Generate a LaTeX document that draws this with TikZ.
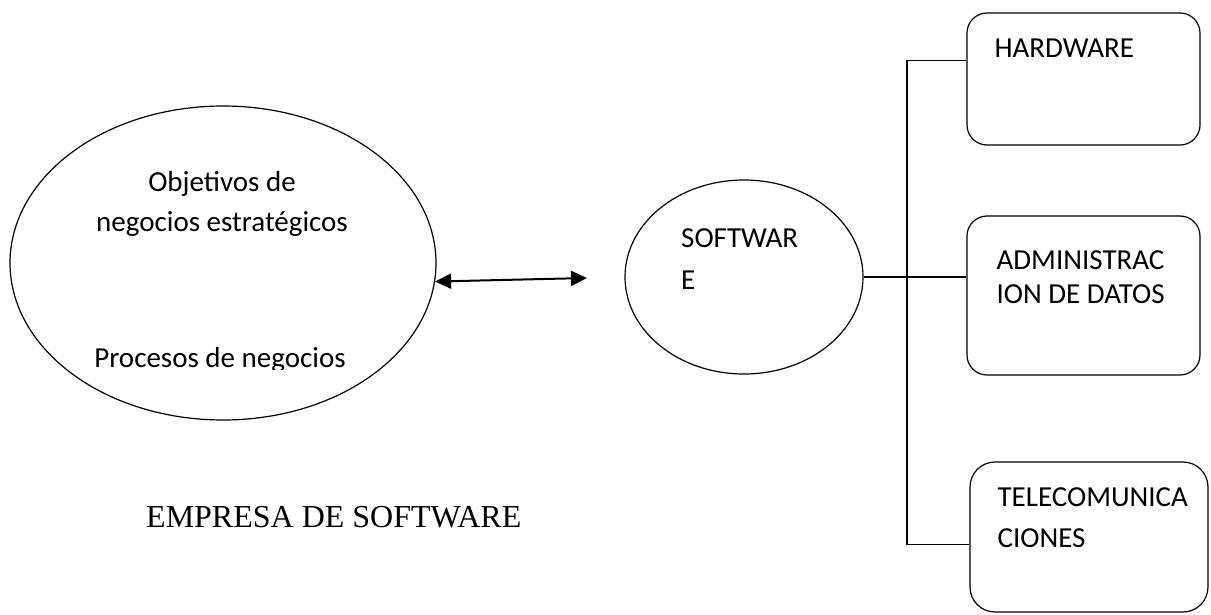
\documentclass[tikz,border=0pt]{standalone}
\usepackage{fontspec}
\setmainfont{Carlito}
\newfontfamily\timesfont{Liberation Serif}
\usetikzlibrary{shapes.geometric, arrows.meta, calc}

\begin{document}
\begin{tikzpicture}[
        x=1pt, y=-1pt,
        oval/.style={ellipse, draw=black, line width=1.2pt, inner sep=0pt},
        box/.style={rectangle, draw=black, line width=1.2pt, rounded corners=20pt, minimum width=233pt},
        txt/.style={font=\fontsize{29}{34}\selectfont, inner sep=0pt, anchor=base},
        line/.style={draw=black, line width=1.2pt},
        arrow/.style={{Triangle[length=16pt,width=15pt]}-{Triangle[length=16pt,width=15pt]}, line width=2pt, color=black}
    ]
    \useasboundingbox (0,0) rectangle (1211,615);

    % Nodes
    \node[oval, minimum width=426pt, minimum height=314pt] (empresa) at (223,263) {};
    \node[txt] (obj) at (222,192) {Objetivos de};
    \node[txt] (neg) at (222,232) {negocios estratégicos};
    \begin{scope}
        \clip (0,0) rectangle (1211,369);
        \node[txt] (proc) at (220,367) {Procesos de negocios};
    \end{scope}
    \node[txt, anchor=base west, font=\timesfont\fontsize{32}{38}\selectfont] (title) at (146,527) {EMPRESA DE SOFTWARE};

    \node[oval, minimum width=238pt, minimum height=194pt] (software) at (744,277) {};
    % base of a two-line node is the last line
    \node[txt, anchor=base west, align=left, font=\fontsize{29}{42}\selectfont] (swtxt) at (681,289) {SOFTWAR\\E};

    \node[box, minimum height=132pt] (hw) at (1083.5,79) {};
    \node[box, minimum height=159pt] (admin) at (1083.5,295.5) {};
    \node[box, minimum width=238pt, minimum height=150pt, rounded corners=25pt] (tc) at (1089,537) {};

    \node[txt, anchor=base west] (hwtxt) at ($(hw.north west)+(28,45)$) {HARDWARE};
    \node[txt, anchor=base west, align=left] (admintxt) at ($(admin.north west)+(30,88)$) {ADMINISTRAC\\ION DE DATOS};
    \node[txt, anchor=base west, align=left, font=\fontsize{29}{41}\selectfont] (tctxt) at ($(tc.north west)+(28,86)$) {TELECOMUNICA\\CIONES};

    % Connections
    \coordinate (arrowend) at (587,278);
    \draw[arrow] (empresa.-5) -- (arrowend);

    \coordinate (bus) at (907,0);
    \coordinate (hwin) at ($(hw.north west)+(0,48)$);
    \coordinate (tcin) at ($(tc.north west)+(0,83)$);
    \draw[line] (hwin) -- (hwin -| bus) -- (tcin -| bus) -- (tcin);
    \draw[line] (software.east) -- (software.east -| admin.west);

\end{tikzpicture}
\end{document}
